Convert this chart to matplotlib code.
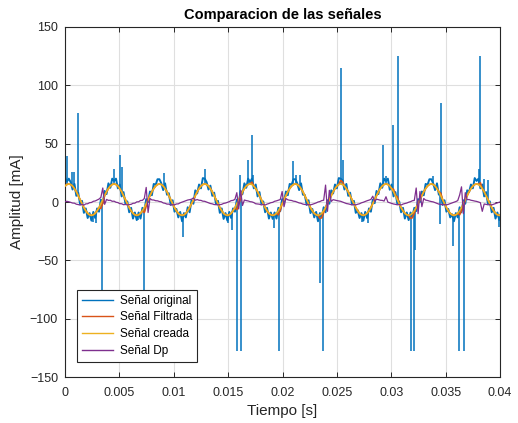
import numpy as np
import matplotlib
matplotlib.use("Agg")
import matplotlib.pyplot as plt

plt.rcParams['font.family'] = ['Liberation Sans', 'DejaVu Sans']

# Frecuencia de muestreo de las señales tabuladas [muestras/s]
fs = 5760

# Señal creada (senoidal de referencia), en mA
senal_creada = [
    13.7, 15.0,
    15.5, 15.0, 13.7, 11.5, 8.8, 5.5, 2.0, -1.5, -4.8, -7.5, -9.7, -11.0, -11.5, -11.0, -9.7, -7.5, -4.8, -1.5, 2.0, 5.5, 8.8, 11.5, 13.7, 15.0,
    15.5, 15.0, 13.7, 11.5, 8.8, 5.5, 2.0, -1.5, -4.8, -7.5, -9.7, -11.0, -11.5, -11.0, -9.7, -7.5, -4.8, -1.5, 2.0, 5.5, 8.8, 11.5, 13.7, 15.0,
    15.5, 15.0, 13.7, 11.5, 8.8, 5.5, 2.0, -1.5, -4.8, -7.5, -9.7, -11.0, -11.5, -11.0, -9.7, -7.5, -4.8, -1.5, 2.0, 5.5, 8.8, 11.5, 13.7, 15.0,
    15.5, 15.0, 13.7, 11.5, 8.8, 5.5, 2.0, -1.5, -4.8, -7.5, -9.7, -11.0, -11.5, -11.0, -9.7, -7.5, -4.8, -1.5, 2.0, 5.5, 8.8, 11.5, 13.7, 15.0,
    15.5, 15.0, 13.7, 11.5, 8.8, 5.5, 2.0, -1.5, -4.8, -7.5, -9.7, -11.0, -11.5, -11.0, -9.7, -7.5, -4.8, -1.5, 2.0, 5.5, 8.8, 11.5, 13.7, 15.0,
    15.5, 15.0, 13.7, 11.5, 8.8, 5.5, 2.0, -1.5, -4.8, -7.5, -9.7, -11.0, -11.5, -11.0, -9.7, -7.5, -4.8, -1.5, 2.0, 5.5, 8.8, 11.5, 13.7, 15.0,
    15.5, 15.0, 13.7, 11.5, 8.8, 5.5, 2.0, -1.5, -4.8, -7.5, -9.7, -11.0, -11.5, -11.0, -9.7, -7.5, -4.8, -1.5, 2.0, 5.5, 8.8, 11.5, 13.7, 15.0,
    15.5, 15.0, 13.7, 11.5, 8.8, 5.5, 2.0, -1.5, -4.8, -7.5, -9.7, -11.0, -11.5, -11.0, -9.7, -7.5, -4.8, -1.5, 2.0, 5.5, 8.8, 11.5, 13.7, 15.0,
    15.5, 15.0, 13.7, 11.5, 8.8, 5.5, 2.0, -1.5, -4.8, -7.5, -9.7, -11.0, -11.5, -11.0, -9.7, -7.5, -4.8, -1.5, 2.0, 5.5, 8.8, 11.5, 13.7, 15.0,
    15.5, 15.0, 13.7, 11.5, 8.8, 5.5, 2.0, -1.5, -4.8, -7.5, -9.7, -11.0, -11.5, -11.0,
]

# Señal filtrada
senal_filtrada = [
    13.7, 15.0,
    15.5, 15.0, 13.7, 11.5, 8.8, 5.5, 2.0, -1.5, -4.8, -7.5, -9.7, -11.0, -11.5, -11.0, -9.7, -7.5, -4.8, -5.5, -1.0, 5.5, 8.8, 11.5, 13.7, 15.0,
    15.5, 15.0, 13.7, 11.5, 8.8, 5.5, 2.0, -1.5, -4.8, -7.5, -9.7, -11.0, -11.5, -11.0, -9.7, -7.5, -9.0, -3.5, 2.0, 5.5, 8.8, 11.5, 13.7, 15.0,
    15.5, 15.0, 13.7, 11.5, 8.8, 5.5, 2.0, -1.5, -4.8, -7.5, -9.7, -11.0, -11.5, -11.0, -9.7, -7.5, -4.8, -1.5, 1.0, 5.5, 8.8, 11.5, 13.7, 15.0,
    15.5, 15.0, 13.7, 11.5, 8.8, 5.5, 2.0, -1.5, -4.8, -7.5, -9.7, -11.0, -11.5, -11.0, -9.7, -7.5, -4.8, -6.5, -2.0, 3.0, 8.8, 11.5, 13.7, 15.0,
    15.5, 17.0, 13.7, 11.5, 8.8, 5.5, 2.0, -1.5, -4.8, -7.5, -9.7, -11.0, -11.5, -11.0, -9.7, -11.0, -7.0, -1.5, 2.0, 5.5, 8.8, 11.5, 13.7, 15.0,
    15.5, 15.0, 13.7, 11.5, 8.8, 5.5, 2.0, -1.5, -4.8, -7.5, -9.7, -11.0, -11.5, -14.0, -13.5, -9.0, -4.8, -1.5, 2.0, 5.5, 8.8, 11.5, 13.7, 15.0,
    18.5, 17.0, 13.7, 11.5, 8.8, 5.5, 2.0, -1.5, -4.8, -7.5, -9.7, -11.0, -11.5, -11.0, -9.7, -7.5, -4.8, -1.5, 2.0, 5.5, 8.8, 11.5, 13.7, 15.0,
    15.5, 15.0, 13.7, 11.5, 11.0, 5.5, 4.5, -1.5, -4.8, -7.5, -9.7, -11.0, -11.5, -14.0, -13.5, -9.5, -4.8, -1.5, 2.0, 5.5, 8.8, 11.5, 13.7, 15.0,
    15.5, 15.0, 13.7, 11.5, 8.8, 7.5, 2.0, -1.5, -4.8, -7.5, -9.7, -11.0, -11.5, -11.0, -9.7, -11.0, -7.5, -4.0, 2.0, 5.5, 8.8, 11.5, 13.7, 15.0,
    15.5, 15.0, 16.5, 11.5, 8.8, 5.5, 2.0, -1.5, -4.8, -7.5, -9.7, -11.0, -11.5, -11.0,
]

# Señal original medida (sin los picos de ruido impulsivo)
senal_original = [
    21.0, 17.5,
    20.0, 17.0, 10.7, 15.5, 5.3, 8.0, -2.0, 1.0, -9.3, -5.5, -13.7, -9.5, -16.0, -8.5, -13.7, -5.5, -8.3, 2.0, -1.0, 9.5, 6.8, 16.0, 12.2, 20.0,
    18.0, 20.0, 11.7, 15.0, 4.8, 8.5, -1.5, 0.5, -8.8, -5.0, -14.2, -9.0, -15.5, -9.0, -14.2, -5.0, -7.8, 2.5, 0.0, 9.0, 5.8, 15.5, 14.7, 19.5,
    19.5, 16.0, 10.2, 16.0, 6.3, 7.5, -2.5, 1.5, -8.3, -6.0, -13.2, -8.5, -16.5, -9.5, -13.2, -4.5, -8.8, 1.5, -1.5, 10.0, 7.3, 15.0, 11.7, 20.5,
    20.0, 17.0, 10.7, 14.0, 5.3, 8.0, -2.0, 1.0, -9.3, -5.5, -14.5, -9.5, -16.0, -8.5, -13.7, -5.5, -8.3, 2.0, -1.0, 9.5, 6.8, 16.0, 12.2, 20.0,
    17.0, 20.0, 11.7, 15.0, 4.8, 8.5, -1.5, 0.5, -8.8, -5.0, -14.2, -9.0, -14.5, -9.0, -14.2, -5.0, -7.8, 2.5, 0.0, 9.0, 5.8, 15.5, 14.7, 19.5,
    19.5, 16.0, 10.2, 16.0, 6.3, 6.0, -2.5, 1.5, -9.5, -6.0, -13.2, -8.5, -16.5, -9.5, -13.2, -4.5, -8.8, 1.5, -1.5, 10.0, 7.3, 15.0, 11.7, 20.5,
    20.0, 18.5, 10.7, 15.5, 5.3, 8.0, -2.0, 1.0, -9.3, -7.0, -13.7, -9.5, -16.0, -8.5, -13.7, -5.5, -8.3, 2.0, -1.0, 9.5, 6.8, 16.0, 12.2, 20.0,
    18.0, 20.0, 10.5, 15.0, 4.8, 8.5, -1.5, 0.5, -8.8, -5.0, -14.2, -9.0, -15.5, -9.0, -12.5, -5.0, -7.8, 2.5, 0.0, 9.0, 5.8, 15.5, 14.7, 19.5,
    19.5, 16.0, 10.2, 16.0, 6.3, 7.5, -2.5, 1.5, -8.3, -6.0, -13.2, -10.5, -16.5, -9.5, -13.2, -4.5, -8.8, 1.5, -1.5, 10.0, 8.5, 15.0, 11.7, 20.5,
    18.0, 20.0, 11.7, 15.0, 4.8, 8.5, -1.5, 0.5, -8.8, -5.0, -14.2, -9.0, -15.5, -9.0,
]

# Señal Dp
senal_dp = [
    0.3, 0.6,
    0.2, -0.3, -0.9, -1.0, -1.9, -2.2, -2.6, -2.0, -2.7, -1.6, -1.5, -0.6, -0.4, 0.6, 0.9, 1.7, 2.5, 4.0, 12.0, -2.0, 2.2, 1.4, 1.5, 0.6,
    0.7, -0.2, -0.5, -1.4, -1.5, -2.3, -2.1, -2.5, -2.2, -2.0, -1.1, -1.0, 0.1, 0.2, 1.3, 1.4, 3.0, 12.5, -9.0, 3.0, 1.8, 1.7, 1.1, 1.0,
    0.4, 0.2, -0.8, -1.1, -1.8, -1.8, -2.6, -2.3, -2.4, -1.7, -1.6, -0.7, -0.1, 0.5, 1.0, 1.7, 2.0, 2.4, 3.5, 1.5, 2.1, 1.5, 1.4, 0.7,
    0.6, -0.1, -0.7, -1.3, -1.6, -2.2, -2.2, -2.4, -2.3, -2.0, -1.2, -0.9, -0.3, 0.3, 1.2, 1.4, 2.3, 8.0, -6.0, 10.0, -3.0, 1.7, 1.2, 0.9,
    0.3, 0.1, -0.5, -1.5, -1.7, -1.9, -2.5, -2.1, -2.6, -1.8, -1.3, -0.6, -0.3, 0.6, 1.0, 1.6, 2.1, 9.0, -4.0, 3.0, 1.9, 1.5, 1.3, 0.7,
    0.5, -0.2, -0.8, -1.1, -1.8, -2.1, -2.3, -2.3, -2.4, -2.0, -1.4, -0.8, 0.0, 0.4, 1.2, 1.5, 14.5, -8.0, 10.0, 0.5, 2.0, 1.6, 1.2, 0.9,
    0.6, 0.0, -0.6, -1.3, -1.6, -2.0, -2.5, -2.2, -2.5, -1.9, -1.5, -0.7, -0.2, 0.5, 1.1, 1.6, 2.2, 5.0, 0.5, 2.4, 2.0, 1.5, 1.4, 0.8,
    4.5, -0.1, -0.7, -1.2, -1.7, -2.0, -2.4, -2.1, -2.6, -1.8, -1.3, -0.9, -0.2, 0.3, 1.1, 1.4, 12.0, -10.0, 9.0, -4.0, 3.0, 1.6, 1.3, 0.8,
    0.4, 0.1, -0.5, -1.2, -1.8, -2.1, -2.3, -2.3, -2.4, -2.0, -1.4, -0.7, -0.1, 0.4, 1.2, 6.0, 13.0, -10.0, 8.0, 2.0, 2.1, 1.5, 1.2, 0.8,
    0.5, 0.0, -0.6, -8.0, -1.7, -2.0, -2.4, -2.2, -2.5, -1.9, -1.4, -0.8, -0.2, 0.4,
]

# Picos impulsivos de la señal original: instante [s], nivel de partida y valor del pico [mA]
picos_t = [
    0.001223, 0.00506, 0.01717, 0.02541, 0.02927, 0.03019, 0.03059, 0.03457, 0.03819,
    0.003375, 0.007264, 0.01579, 0.01618, 0.01968, 0.02345, 0.0237, 0.03182, 0.03206, 0.03626, 0.03666,
    0.00018, 0.00062, 0.00086, 0.0045, 0.00521, 0.0091, 0.01287, 0.01609, 0.01683, 0.01729,
    0.02094, 0.02124, 0.02161, 0.02559, 0.02952, 0.03387, 0.0381, 0.03853, 0.0389,
    0.00257, 0.00285, 0.00671, 0.01088, 0.01499, 0.01536, 0.01922, 0.02731, 0.02786,
    0.03218, 0.03448, 0.03568, 0.03995,
]
picos_desde = [
    5.5, 11.4, 15.0, 15.4, 14.5, 9.0, 1.5, 5.3, 13.7,
    -2.0, -5.0, -1.5, 6.0, -6.5, -11.0, -8.6, -10.8, -8.8, -8.0, -1.0,
    15.0, 14.3, 11.6, 15.4, 8.8, 12.8, 15.5, 4.5, 14.9, 14.2,
    14.5, 15.4, 12.6, 14.5, 15.5, 14.9, 14.4, 9.1, 1.7,
    -11.1, -9.2, -11.2, -11.2, -11.4, -8.6, -11.2, -11.2, -8.6,
    -6.5, 6.0, -11.3, -11.4,
]
picos_valor = [
    76, 40, 57, 115, 49, 66, 125, 85, 125,
    -128, -128, -128, -128, -128, -69, -128, -128, -128, -128, -128,
    39, 26, 26, 28, 30, 25, 28, 23, 36, 23,
    35, 23, 23, 36, 22, 22, 28, 20, 19,
    -17, -18, -15, -30, -18, -24, -22, -17, -18,
    -41, -19, -38, -21,
]

ticks_x = [0, 0.005, 0.01, 0.015, 0.02, 0.025, 0.03, 0.035, 0.04]
etiquetas_x = ['0', '0.005', '0.01', '0.015', '0.02', '0.025', '0.03', '0.035', '0.04']
ticks_y = [-150, -100, -50, 0, 50, 100, 150]

azul, naranja, amarillo, morado = '#0072BD', '#D95319', '#EDB120', '#7E2F8E'
gris_texto = '#262626'

t = np.arange(len(senal_creada)) / fs

fig = plt.figure(figsize=(5.18, 4.23), dpi=100)
ax = fig.add_axes([0.1255, 0.1087, 0.8398, 0.8275])

l1, = ax.plot(t, senal_original, color=azul, lw=1.4, zorder=2)
ax.vlines(picos_t, picos_desde, picos_valor, color=azul, lw=1.1, zorder=2)
l2, = ax.plot(t, senal_filtrada, color=naranja, lw=1.2, zorder=3)
l3, = ax.plot(t, senal_creada, color=amarillo, lw=1.2, zorder=4)
l4, = ax.plot(t, senal_dp, color=morado, lw=0.9, zorder=5)

ax.set_xlim(0, 0.04)
ax.set_ylim(-150, 150)
ax.set_xticks(ticks_x)
ax.set_xticklabels(etiquetas_x)
ax.set_yticks(ticks_y)

ax.grid(True, color='#DFDFDF', lw=0.8, zorder=0)
ax.set_axisbelow(True)
ax.tick_params(direction='in', top=True, right=True, length=3.5, width=0.7,
               colors=gris_texto, labelsize=9, pad=5)
ax.tick_params(axis='x', pad=7)
for s in ax.spines.values():
    s.set_color(gris_texto)
    s.set_linewidth(0.8)

ax.set_xlabel('Tiempo [s]', fontsize=11, color=gris_texto, labelpad=4)
ax.set_ylabel('Amplitud [mA]', fontsize=11, color=gris_texto, labelpad=4)
ax.set_title('Comparacion de las señales', fontsize=10.5, fontweight='bold', color='black', pad=6)

leg = ax.legend([l1, l2, l3, l4],
                ['Señal original', 'Señal Filtrada', 'Señal creada', 'Señal Dp'],
                loc='lower left', bbox_to_anchor=(0.028, 0.044), borderaxespad=0,
                fontsize=8.5, handlelength=2.6, labelspacing=0.4, borderpad=0.4,
                handletextpad=0.6, fancybox=False, framealpha=1)
leg.get_frame().set_edgecolor(gris_texto)
leg.get_frame().set_linewidth(0.8)
for h in leg.get_lines():
    h.set_linewidth(1.0)

fig.savefig('out.png', dpi=100)
